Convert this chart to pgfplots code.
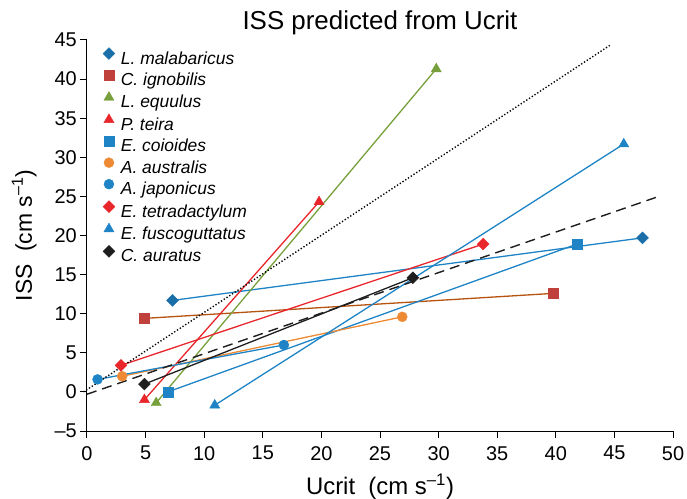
\documentclass[border=0pt]{standalone}
\usepackage{pgfplots}
\pgfplotsset{compat=1.18}
\usepackage{fontspec}
\setmainfont{Liberation Sans}
\definecolor{cblue}{HTML}{1F84C6}
\definecolor{cbluedk}{HTML}{1B6FA8}
\definecolor{cred}{HTML}{E8262B}
\definecolor{csq}{HTML}{C0413B}
\definecolor{cbrown}{HTML}{B5530F}
\definecolor{cgreen}{HTML}{77A03C}
\definecolor{corange}{HTML}{EE8A33}
\definecolor{cblack}{HTML}{1E1E1E}
\begin{document}
\begin{tikzpicture}
\begin{axis}[
  scale only axis, width=586bp, height=391bp,
  xmin=0, xmax=50, ymin=-5, ymax=45,
  axis lines=left, axis line style={-, line width=1bp, black},
  xtick={0,5,...,50}, ytick={-5,0,...,45},
  yticklabels={–5,0,5,10,15,20,25,30,35,40,45},
  tick align=outside, major tick length=7bp,
  tick style={line width=1bp, black},
  ticklabel style={font=\fontsize{20}{24}\selectfont, inner sep=2bp},
  xticklabel style={yshift=-6bp},
  yticklabel style={xshift=-1bp},
  /pgf/number format/assume math mode=true,
  title={ISS predicted from Ucrit},
  title style={at={(0.5,1)}, anchor=base, yshift=5bp, font=\fontsize{26}{30}\selectfont},
  xlabel={Ucrit\ \ (cm s\textsuperscript{–1})},
  xlabel style={at={(0.5,0)}, anchor=base, yshift=-63bp, font=\fontsize{24}{28}\selectfont},
  ylabel={ISS\ \ (cm s\textsuperscript{–1})},
  ylabel style={at={(-0.0939,0.5)}, anchor=base, font=\fontsize{23}{27}\selectfont},
  clip=false,
  every axis plot/.append style={line width=1.3bp},
  legend image code/.code={\draw[#1, only marks] plot coordinates {(0bp,6bp)};},
  legend cell align=left,
  legend style={draw=none, fill=none, inner sep=0bp, at={(0.027,0.981)}, anchor=north west,
    font=\itshape\fontsize{17.5}{20}\selectfont, row sep=2.0bp,
    nodes={inner sep=0bp, text height=13bp, text depth=4bp},
    /tikz/every odd column/.append style={column sep=6bp}},
]
\coordinate (sw) at (rel axis cs:0,0);
\addplot[cblue, mark=square*, mark size=4.2bp, mark options={rotate=45, solid, line width=0.4bp, fill=cbluedk, draw=cbluedk}]
  coordinates {(7.3,11.7) (47.4,19.7)};
\addlegendentry{L. malabaricus}
\addplot[cbrown, mark=square*, mark size=5bp, mark options={solid, line width=0.4bp, fill=csq, draw=csq}]
  coordinates {(4.9,9.4) (39.8,12.6)};
\addlegendentry{C. ignobilis}
\addplot[cgreen, mark=triangle*, mark size=5.8bp, mark options={solid, line width=0.4bp, fill=cgreen, draw=cgreen}]
  coordinates {(5.9,-1.4) (29.8,41.3)};
\addlegendentry{L. equulus}
\addplot[cred, mark=triangle*, mark size=5.8bp, mark options={solid, line width=0.4bp, fill=cred, draw=cred}]
  coordinates {(4.9,-1.0) (19.8,24.3)};
\addlegendentry{P. teira}
\addplot[cblue, mark=square*, mark size=5bp, mark options={solid, line width=0.4bp, fill=cblue, draw=cblue}]
  coordinates {(6.9,0.0) (41.8,18.9)};
\addlegendentry{E. coioides}
\addplot[corange, mark=*, mark size=5bp, mark options={solid, line width=0.4bp, fill=corange, draw=corange}]
  coordinates {(3.0,2.0) (26.9,9.6)};
\addlegendentry{A. australis}
\addplot[cblue, mark=*, mark size=5bp, mark options={solid, line width=0.4bp, fill=cblue, draw=cblue}]
  coordinates {(0.9,1.6) (16.8,6.0)};
\addlegendentry{A. japonicus}
\addplot[cred, mark=square*, mark size=4.2bp, mark options={rotate=45, solid, line width=0.4bp, fill=cred, draw=cred}]
  coordinates {(2.9,3.4) (33.8,18.9)};
\addlegendentry{E. tetradactylum}
\addplot[cblue, mark=triangle*, mark size=5.8bp, mark options={solid, line width=0.4bp, fill=cblue, draw=cblue}]
  coordinates {(10.9,-1.7) (45.8,31.7)};
\addlegendentry{E. fuscoguttatus}
\addplot[cblack, mark=square*, mark size=4.2bp, mark options={rotate=45, solid, line width=0.4bp, fill=cblack, draw=cblack}]
  coordinates {(4.9,1.0) (27.8,14.6)};
\addlegendentry{C. auratus}
\addplot[black, dotted, line width=1.4bp, forget plot] coordinates {(-0.3,0.0) (44.7,44.4)};
\addplot[cblack, dash pattern=on 10bp off 6bp, line width=1.4bp, forget plot] coordinates {(0.0,-0.3) (48.6,24.9)};
\end{axis}
\pgfresetboundingbox
\path (sw) ++(-87bp,-68bp) rectangle ++(687bp,499bp);
\end{tikzpicture}
\end{document}
